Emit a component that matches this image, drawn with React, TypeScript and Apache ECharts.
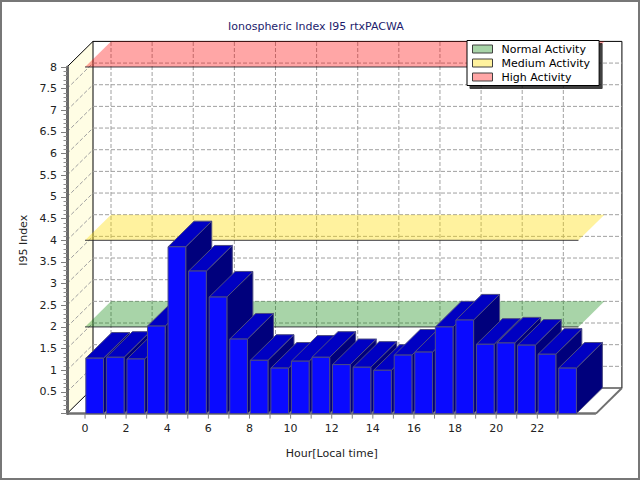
import React, { useEffect, useRef } from "react";
import * as echarts from "echarts";

// ---- data ----
const HOURS = [0, 1, 2, 3, 4, 5, 6, 7, 8, 9, 10, 11, 12, 13, 14, 15, 16, 17, 18, 19, 20, 21, 22, 23];
const I95 = [1.28, 1.3, 1.26, 2.02, 3.85, 3.29, 2.69, 1.72, 1.23, 1.05, 1.21, 1.3, 1.13, 1.07, 1.0, 1.35, 1.42, 2.0, 2.16, 1.6, 1.63, 1.58, 1.37, 1.05];
const HOUR_LABELS = [0, 2, 4, 6, 8, 10, 12, 14, 16, 18, 20, 22];
const Y_LABELS = [0.5, 1, 1.5, 2, 2.5, 3, 3.5, 4, 4.5, 5, 5.5, 6, 6.5, 7, 7.5, 8];
const BAND_NAMES = ["Normal Activity", "Medium Activity", "High Activity"];
const BAND_LEVELS = [2, 4, 8];
const BAND_SPAN = [0, 24];
const X_FRAME = [-0.875, 24.85];
const Y_RANGE = [0, 8];

// ---- styles ----
const FONT = "DejaVu Sans";
const DX = 26;
const DY = -25.6;
const BAR_FROM = 0.04;
const BAR_TO = 0.9;
const BAND_COLORS = ["rgba(0,128,0,0.34)", "rgba(255,220,0,0.38)", "rgba(255,0,0,0.35)"];
const BAND_EDGE = "rgba(40,40,50,0.9)";
const GRID_LINE = { stroke: "#a0a0a0", lineWidth: 1, lineDash: [4, 2] };

const back = (p: number[]) => [p[0] + DX, p[1] + DY];
const seg = (a: number[], b: number[], style: any) => ({
  type: "line",
  shape: { x1: a[0], y1: a[1], x2: b[0], y2: b[1] },
  style,
});

function renderFrame(_params: any, api: any) {
  const [xl, xr] = X_FRAME;
  const fb = api.coord([xl, Y_RANGE[0]]);
  const ft = api.coord([xl, Y_RANGE[1]]);
  const rb = api.coord([xr, Y_RANGE[0]]);
  const bt = back(ft);
  const bbr = back(rb);
  const children: any[] = [];
  children.push({ type: "polygon", shape: { points: [fb, ft, back(ft), back(fb)] }, style: { fill: "#fffde4" } });
  children.push({ type: "polygon", shape: { points: [fb, rb, back(rb), back(fb)] }, style: { fill: "#ffffff" } });
  children.push({
    type: "rect",
    shape: { x: bt[0], y: bt[1], width: bbr[0] - bt[0], height: bbr[1] - bt[1] },
    style: { fill: "#ffffff", stroke: "#000000", lineWidth: 1 },
  });
  Y_LABELS.forEach((v) => {
    if (v >= Y_RANGE[1]) return;
    const a = api.coord([xl, v]);
    const b = api.coord([xr, v]);
    children.push(seg(back(a), back(b), GRID_LINE));
    children.push(seg(a, back(a), GRID_LINE));
  });
  HOUR_LABELS.forEach((h) => {
    const p0 = api.coord([h, Y_RANGE[0]]);
    const p1 = api.coord([h, Y_RANGE[1]]);
    children.push(seg(back(p0), back(p1), GRID_LINE));
  });
  children.push(seg(ft, back(ft), { stroke: "#000", lineWidth: 1 }));
  children.push(seg(fb, back(fb), { stroke: "#000", lineWidth: 1 }));
  children.push(seg(rb, back(rb), { stroke: "#707070", lineWidth: 2 }));
  children.push(seg(fb, rb, { stroke: "#707070", lineWidth: 2.5 }));
  HOURS.forEach((h) => {
    const p = api.coord([h, Y_RANGE[0]]);
    children.push(seg([p[0], p[1]], [p[0], p[1] + 5], { stroke: "#808080", lineWidth: 1 }));
  });
  return { type: "group", children };
}

const renderBand = (idx: number) => (_params: any, api: any) => {
  const lvl = api.value(1);
  const a = api.coord([BAND_SPAN[0], lvl]);
  const b = api.coord([BAND_SPAN[1], lvl]);
  return {
    type: "group",
    children: [
      { type: "polygon", shape: { points: [a, b, back(b), back(a)] }, style: { fill: BAND_COLORS[idx] } },
      seg(a, b, { stroke: BAND_EDGE, lineWidth: 1 }),
    ],
  };
};

function renderBar(params: any, api: any) {
  const h = api.value(0);
  const v = api.value(1);
  const p0 = api.coord([h + BAR_FROM, 0]);
  const p1 = api.coord([h + BAR_TO, v]);
  const x0 = p0[0], x1 = p1[0], yb = p0[1], yt = p1[1];
  const stroke = "#4c4c82";
  return {
    type: "group",
    z2: params.dataIndex * 10,
    children: [
      {
        type: "polygon",
        shape: { points: [[x1, yt], [x1 + DX, yt + DY], [x1 + DX, yb + DY], [x1, yb]] },
        style: { fill: "#00007c", stroke, lineWidth: 1 },
      },
      {
        type: "polygon",
        shape: { points: [[x0, yt], [x1, yt], [x1 + DX, yt + DY], [x0 + DX, yt + DY]] },
        style: { fill: "#0000c2", stroke, lineWidth: 1 },
      },
      {
        type: "rect",
        shape: { x: x0, y: yt, width: x1 - x0, height: yb - yt },
        style: { fill: "#0a0aff", stroke, lineWidth: 1 },
      },
    ],
  };
}

export default function App() {
  const ref = useRef<HTMLDivElement>(null);
  useEffect(() => {
    if (!ref.current) return;
    const chart = echarts.init(ref.current, undefined, { renderer: "svg" });
    const xPerHour = 20.56;
    const originX = 85;
    const gridLeft = originX - 2 * xPerHour;
    const gridRight = 640 - (originX + 26 * xPerHour);
    const option: any = {
      animation: false,
      backgroundColor: "#ffffff",
      textStyle: { fontFamily: FONT },
      title: {
        text: "Ionospheric Index I95 rtxPACWA",
        left: 228,
        top: 21,
        padding: 0,
        textStyle: { fontSize: 11, fontWeight: "normal", color: "#1c1c6c", fontFamily: FONT },
      },
      legend: {
        data: BAND_NAMES,
        orient: "vertical",
        left: 467,
        top: 40.5,
        padding: [3, 9, 3, 5],
        itemGap: 3,
        itemWidth: 20,
        itemHeight: 8,
        icon: "rect",
        backgroundColor: "#ffffff",
        borderColor: "#000000",
        borderWidth: 1,
        shadowColor: "rgba(0,0,0,0.75)",
        shadowOffsetX: 3,
        shadowOffsetY: 3,
        shadowBlur: 0,
        itemStyle: { borderColor: "#404040", borderWidth: 1 },
        textStyle: { fontSize: 11, color: "#000", fontFamily: FONT, padding: [0, 0, 0, 4] },
        selectedMode: false,
      },
      grid: [
        { left: gridLeft, right: gridRight, top: 67, bottom: 66.4 },
        { left: 67, right: 44, top: 67, bottom: 66.4 },
      ],
      xAxis: [
        {
          type: "value",
          gridIndex: 0,
          min: -2,
          max: 26,
          interval: 2,
          axisLine: { show: false },
          axisTick: { show: false },
          splitLine: { show: false },
          axisLabel: {
            margin: 9,
            fontSize: 11,
            color: "#222",
            fontFamily: FONT,
            formatter: (v: number) => (HOUR_LABELS.includes(v) ? String(v) : ""),
          },
          name: "Hour[Local time]",
          nameLocation: "middle",
          nameGap: 34,
          nameTextStyle: { fontSize: 11, color: "#222", fontFamily: FONT },
        },
        { type: "value", gridIndex: 1, min: 0, max: 1, show: false },
      ],
      yAxis: [
        { type: "value", gridIndex: 0, min: Y_RANGE[0], max: Y_RANGE[1], show: false },
        {
          type: "value",
          gridIndex: 1,
          min: Y_RANGE[0],
          max: Y_RANGE[1],
          interval: 0.5,
          z: 10,
          axisLine: { show: true, lineStyle: { color: "#6a6a6a", width: 3 } },
          axisTick: { show: true, length: 6, lineStyle: { color: "#808080" } },
          minorTick: { show: true, splitNumber: 5, length: 3.5, lineStyle: { color: "#909090" } },
          splitLine: { show: false },
          axisLabel: {
            margin: 10,
            fontSize: 11,
            color: "#222",
            fontFamily: FONT,
            formatter: (v: number) => (Y_LABELS.includes(v) ? String(v) : ""),
          },
          name: "I95 Index",
          nameLocation: "middle",
          nameGap: 31,
          nameTextStyle: { fontSize: 11, color: "#222", fontFamily: FONT },
        },
      ],
      graphic: [
        {
          type: "rect",
          shape: { x: 1, y: 1, width: 638, height: 478 },
          style: { fill: "none", stroke: "#777777", lineWidth: 2 },
          z: 100,
          silent: true,
        },
      ],
      series: [
        {
          type: "custom",
          name: "frame",
          xAxisIndex: 0,
          yAxisIndex: 0,
          clip: false,
          z: 1,
          silent: true,
          renderItem: renderFrame,
          data: [[0, 0]],
        },
        ...BAND_NAMES.map((name, i) => ({
          type: "custom",
          name,
          xAxisIndex: 0,
          yAxisIndex: 0,
          clip: false,
          z: 2,
          silent: true,
          itemStyle: { color: BAND_COLORS[i] },
          renderItem: renderBand(i),
          data: [[BAND_SPAN[0], BAND_LEVELS[i]]],
        })),
        {
          type: "custom",
          name: "I95",
          xAxisIndex: 0,
          yAxisIndex: 0,
          clip: false,
          z: 3,
          silent: true,
          renderItem: renderBar,
          data: HOURS.map((h, i) => [h, I95[i]]),
        },
      ],
    };
    chart.setOption(option);
    return () => chart.dispose();
  }, []);
  return (
    <div
      ref={ref}
      style={{ position: "fixed", left: 0, top: 0, width: 640, height: 480, background: "#fff" }}
    />
  );
}
